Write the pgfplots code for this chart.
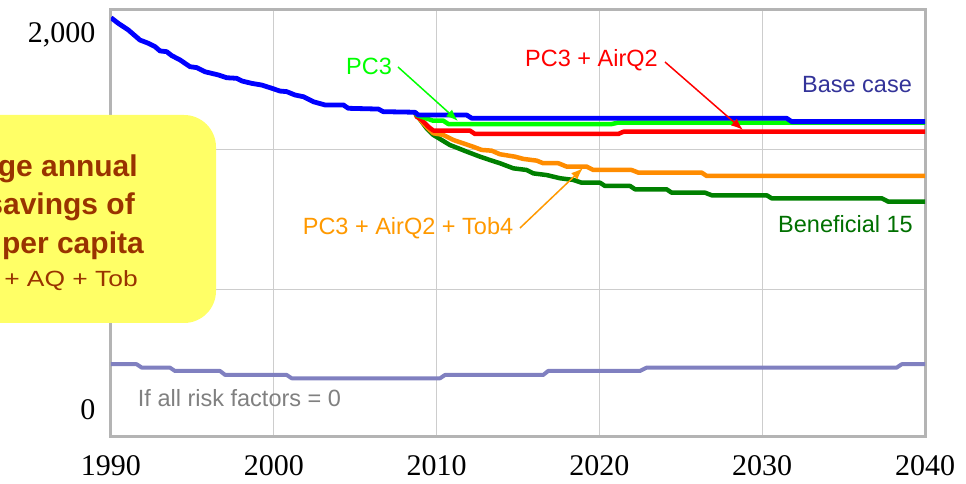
\documentclass[border=0pt]{standalone}
\usepackage{pgfplots}
\pgfplotsset{compat=1.18}
\usepackage{graphicx}
\usepackage{fontspec}
\setmainfont{Liberation Sans}
\newfontfamily\timesf{Liberation Serif}
\usetikzlibrary{arrows.meta}
\definecolor{framec}{RGB}{180,180,180}
\definecolor{gridc}{RGB}{205,205,205}
\definecolor{pcgreen}{RGB}{0,255,0}
\definecolor{benegreen}{RGB}{0,128,0}
\definecolor{benetext}{RGB}{0,112,0}
\definecolor{orangeline}{RGB}{255,140,0}
\definecolor{orangetext}{RGB}{255,153,0}
\definecolor{lavender}{RGB}{128,128,192}
\definecolor{basetext}{RGB}{51,51,153}
\definecolor{boxyellow}{RGB}{255,255,102}
\definecolor{boxtext}{RGB}{153,51,0}
\definecolor{greytext}{RGB}{128,128,128}
\begin{document}
\begin{tikzpicture}
\useasboundingbox (-111pt,-47pt) rectangle (855pt,437pt);
\begin{axis}[
  at={(0pt,0pt)}, anchor=south west,
  scale only axis, width=814pt, height=427pt,
  xmin=1990, xmax=2040, ymin=-144, ymax=2133.3,
  xtick={1990,2000,2010,2020,2030,2040},
  xticklabels={1990,2000,2010,2020,2030,2040},
  ytick={640,1386.7}, yticklabels={},
  extra y ticks={0,2000}, extra y tick labels={0,{2,000}},
  extra y tick style={grid=none},
  xmajorgrids, ymajorgrids,
  major grid style={draw=gridc, line width=1pt},
  major tick length=0pt,
  axis line style={draw=framec, line width=3pt},
  tick label style={font=\timesf\fontsize{30}{30}\selectfont, text=black},
  xticklabel style={yshift=-15pt},
  yticklabel style={xshift=-12pt},
  no markers,
  every axis plot/.append style={line join=round},
]
% If all risk factors = 0
\addplot[lavender, line width=4pt] coordinates {
(1990,244) (1991.58,244) (1991.89,226) (1993.62,226) (1993.93,208) (1996.70,208)
(1997.01,187) (2000.79,187) (2001.10,169) (2010.21,169) (2010.52,187) (2016.55,187)
(2016.85,208) (2022.49,208) (2022.90,226) (2038.26,226) (2038.57,244) (2040,244)};
% Beneficial 15
\addplot[benegreen, line width=4.5pt] coordinates {
(2008.67,1588) (2008.78,1573) (2009.39,1502) (2009.80,1467) (2010.31,1440) (2010.82,1413)
(2011.33,1396) (2011.85,1378) (2012.67,1351) (2013.28,1333) (2013.89,1316) (2014.71,1289)
(2015.53,1280) (2015.94,1262) (2016.76,1253) (2017.58,1236) (2018.40,1227) (2018.91,1212)
(2020.04,1212) (2020.34,1195) (2021.88,1195) (2022.19,1177) (2024.13,1177) (2024.44,1159)
(2026.49,1159) (2026.90,1145) (2030.28,1145) (2030.58,1129) (2037.34,1129) (2037.75,1111)
(2040,1111)};
% PC3 + AirQ2 + Tob4
\addplot[orangeline, line width=4.5pt] coordinates {
(2008.67,1588) (2008.78,1573) (2009.18,1529) (2009.59,1493) (2009.80,1476) (2010.41,1467)
(2011.03,1440) (2011.64,1422) (2012.25,1404) (2012.77,1387) (2013.38,1383) (2013.89,1364)
(2014.82,1351) (2015.33,1339) (2016.15,1330) (2016.55,1316) (2017.48,1316) (2017.99,1298)
(2019.22,1298) (2019.63,1280) (2021.98,1280) (2022.39,1266) (2026.28,1266) (2026.59,1248)
(2040,1248)};
% PC3 + AirQ2
\addplot[red, line width=4.5pt] coordinates {
(2008.67,1588) (2008.78,1564) (2009.09,1547) (2009.49,1511) (2009.80,1490) (2012.05,1490)
(2012.36,1472) (2021.16,1472) (2021.47,1484) (2040,1484)};
% PC3
\addplot[pcgreen, line width=4.5pt] coordinates {
(2008.67,1588) (2008.78,1573) (2009.78,1543) (2010.41,1543) (2010.72,1525) (2020.76,1525)
(2021.16,1533) (2040,1533)};
% Base case
\addplot[blue, line width=4.8pt] coordinates {
(1990.00,2092) (1990.45,2062) (1991.06,2027) (1991.78,1973) (1992.29,1956) (1992.70,1938)
(1993.01,1915) (1993.42,1911) (1993.73,1890) (1994.24,1867) (1994.85,1831) (1995.26,1826)
(1995.77,1804) (1996.59,1787) (1997.11,1772) (1997.72,1769) (1998.03,1755) (1998.64,1742)
(1999.26,1733) (1999.87,1716) (2000.38,1701) (2000.79,1698) (2001.30,1680) (2001.81,1671)
(2002.43,1644) (2003.14,1627) (2004.27,1627) (2004.58,1609) (2006.42,1605) (2006.73,1591)
(2008.67,1588) (2008.88,1573) (2011.85,1573) (2012.16,1556) (2031.50,1556) (2031.81,1538)
(2040,1538)};
\end{axis}
% yellow call-out box (extends past the left edge of the picture, as in the reference)
\fill[boxyellow, rounded corners=32pt] (-260pt,114pt) rectangle (105pt,322pt);
\begin{scope}[every node/.style={text=boxtext, inner sep=0pt, anchor=base east}]
\node[font=\bfseries\fontsize{30}{34}\selectfont] at (27pt,260pt) {Average annual};
\node[font=\bfseries\fontsize{30}{34}\selectfont] at (24pt,222pt) {savings of};
\node[font=\bfseries\fontsize{30}{34}\selectfont] at (33pt,183pt) {per capita};
\node[font=\fontsize{22}{26}\selectfont] at (27pt,150pt) {\scalebox{1.2}[1]{+ AQ + Tob}};
\end{scope}
% series labels
\begin{scope}[every node/.style={inner sep=0pt, anchor=base, font=\fontsize{23.5}{28}\selectfont}]
\node[text=pcgreen] at (258pt,362pt) {PC3};
\node[text=red] at (480.5pt,370pt) {PC3 + AirQ2};
\node[text=basetext] at (746pt,344.5pt) {Base case};
\node[text=benetext] at (734.5pt,204.5pt) {Beneficial 15};
\node[text=orangetext] at (297pt,202pt) {PC3 + AirQ2 + Tob4};
\node[text=greytext] at (128.5pt,30pt) {If all risk factors = 0};
\end{scope}
\draw[pcgreen, line width=1.5pt, -{Latex[length=12pt,width=9pt]}] (287pt,370pt) -- (347pt,316pt);
\draw[red, line width=1.5pt, -{Latex[length=12pt,width=9pt]}] (554pt,375pt) -- (632pt,307pt);
\draw[orangetext, line width=1.5pt, -{Latex[length=12pt,width=9pt]}] (409pt,209pt) -- (472pt,269pt);
\end{tikzpicture}
\end{document}
